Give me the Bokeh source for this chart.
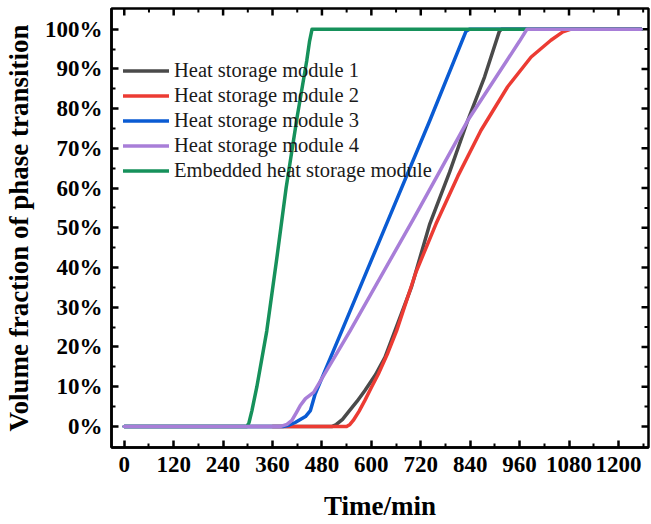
from bokeh.plotting import figure
from bokeh.models import FixedTicker, PrintfTickFormatter, Legend, LegendItem
from bokeh.embed import file_html
from bokeh.resources import INLINE

# Data (time in min, volume fraction in %)
m1_t = [0, 505, 515, 530, 544, 565, 584, 610, 633, 657, 697, 742, 790, 834, 875, 911, 916, 1255]
m1_y = [0, 0, 0.5, 1.8, 3.6, 6.3, 9, 13, 17.4, 24, 35, 51, 64, 77, 88, 99.5, 100, 100]

m2_t = [360, 540, 548, 556, 570, 584, 600, 617, 640, 661, 709, 757, 810, 866, 931, 988, 1036, 1065, 1085, 1255]
m2_y = [0, 0, 0.5, 1.5, 3.8, 6.5, 9.8, 13.2, 18.5, 24, 39, 51, 63, 74.5, 85.5, 93, 97.2, 99.3, 100, 100]

m3_t = [0, 385, 400, 415, 440, 452, 463, 528, 641, 742, 830, 838, 1255]
m3_y = [0, 0, 0.3, 1, 2.5, 4, 8, 24, 52, 77, 99.5, 100, 100]

m4_t = [0, 380, 395, 407, 418, 427, 440, 460, 548, 701, 834, 960, 978, 1255]
m4_y = [0, 0, 0.5, 1.5, 3.5, 5.2, 7, 8.6, 24, 52, 77, 97, 100, 100]

emb_t = [0, 298, 303, 310, 322, 346, 370, 393, 420, 443, 450, 456, 1255]
emb_y = [0, 0, 1, 4, 10, 24, 42, 60, 78, 92, 97, 100, 100]

x_ticks = [0, 120, 240, 360, 480, 600, 720, 840, 960, 1080, 1200]
x_minor = [60, 180, 300, 420, 540, 660, 780, 900, 1020, 1140, 1260]
y_ticks = [0, 10, 20, 30, 40, 50, 60, 70, 80, 90, 100]
y_minor = [5, 15, 25, 35, 45, 55, 65, 75, 85, 95]

names = ["Heat storage module 1", "Heat storage module 2", "Heat storage module 3",
         "Heat storage module 4", "Embedded heat storage module"]
colors = ["#4a4a4a", "#ec3b33", "#0a5bd3", "#a87ed8", "#16915b"]

FONT = "Liberation Serif"
X0, X1 = -31, 1273
Y0, Y1 = -5.3, 105.2

p = figure(width=651, height=524, output_backend="svg", toolbar_location=None,
           x_range=(X0, X1), y_range=(Y0, Y1),
           min_border_left=109, min_border_right=3, min_border_top=8, min_border_bottom=77)
p.grid.visible = False
p.outline_line_color = "black"
p.outline_line_width = 2.5
p.background_fill_color = "white"
p.border_fill_color = "white"

# mirrored inward ticks on the top and right edges (lengths in px converted to data units)
fw, fh = 539.0, 439.0
dx_per_px = (X1 - X0) / fw
dy_per_px = (Y1 - Y0) / fh
p.segment(x0=x_ticks, y0=[Y1] * len(x_ticks), x1=x_ticks, y1=[Y1 - 7 * dy_per_px] * len(x_ticks),
          line_color="black", line_width=2.5)
p.segment(x0=x_minor, y0=[Y1] * len(x_minor), x1=x_minor, y1=[Y1 - 4 * dy_per_px] * len(x_minor),
          line_color="black", line_width=2)
p.segment(x0=[X1] * len(y_ticks), y0=y_ticks, x1=[X1 - 7 * dx_per_px] * len(y_ticks), y1=y_ticks,
          line_color="black", line_width=2.5)
p.segment(x0=[X1] * len(y_minor), y0=y_minor, x1=[X1 - 4 * dx_per_px] * len(y_minor), y1=y_minor,
          line_color="black", line_width=2)

series = [(m1_t, m1_y), (m2_t, m2_y), (m3_t, m3_y), (emb_t, emb_y), (m4_t, m4_y)]
order = [0, 1, 2, 4, 3]
renderers = {}
for (t, y), idx in zip(series, order):
    r = p.line(t, y, line_color=colors[idx], line_width=3.5, line_cap="round", line_join="round")
    renderers[idx] = r

xt = FixedTicker(ticks=x_ticks, minor_ticks=x_minor)
yt = FixedTicker(ticks=y_ticks, minor_ticks=y_minor)
p.xaxis.ticker = xt
p.yaxis.ticker = yt
p.yaxis.formatter = PrintfTickFormatter(format="%d%%")
p.xaxis.axis_label = "Time/min"
p.yaxis.axis_label = "Volume fraction of phase transition"
for ax in p.xaxis + p.yaxis:
    ax.axis_line_width = 2.5
    ax.axis_line_color = "black"
    ax.major_tick_in = 7
    ax.major_tick_out = 0
    ax.minor_tick_in = 4
    ax.minor_tick_out = 0
    ax.major_tick_line_width = 2.5
    ax.minor_tick_line_width = 2
    ax.major_tick_line_color = "black"
    ax.minor_tick_line_color = "black"
    ax.major_label_text_font = FONT
    ax.major_label_text_font_style = "bold"
    ax.major_label_text_font_size = "23px"
    ax.major_label_text_color = "black"
    ax.axis_label_text_font = FONT
    ax.axis_label_text_font_style = "bold"
    ax.axis_label_text_font_size = "27px"
    ax.axis_label_text_color = "black"
p.xaxis.major_label_standoff = 9
p.yaxis.major_label_standoff = 9
p.xaxis.axis_label_standoff = 16
p.xaxis.axis_label_text_line_height = 0.9
p.yaxis.axis_label_standoff = 8

items = [LegendItem(label=names[i], renderers=[renderers[i]]) for i in range(5)]
legend = Legend(items=items, location=(12, 264))
legend.border_line_color = None
legend.background_fill_alpha = 0
legend.padding = 0
legend.spacing = 0
legend.margin = 0
legend.label_height = 25
legend.glyph_height = 25
legend.glyph_width = 46
legend.label_standoff = 5
legend.label_text_font = FONT
legend.label_text_font_size = "20.5px"
legend.label_text_color = "#1a1a1a"
p.add_layout(legend, "center")

open("out.html", "w").write(file_html(p, INLINE))
